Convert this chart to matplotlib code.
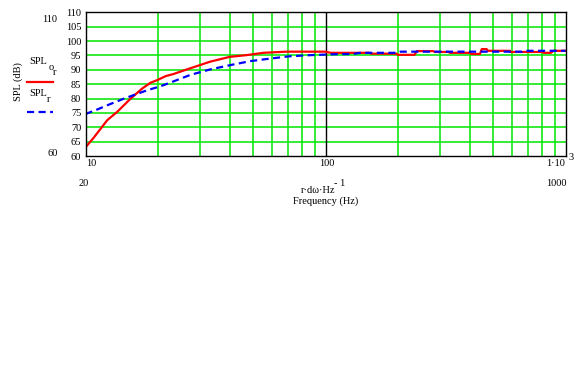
import matplotlib
matplotlib.use("Agg")
import matplotlib.pyplot as plt
from matplotlib.ticker import FixedLocator, NullFormatter

# ---- data ----
freq_or = [10, 10.85, 12.33, 13.57, 15.43, 17.24, 18.67, 19.9, 21.6, 23.2, 27.3, 33.0,
           39.9, 46.9, 55.1, 68.8, 100, 105, 152, 155, 198, 200, 235, 240, 281, 285,
           325, 330, 400, 405, 440, 448, 469, 475, 587, 590, 805, 810, 870, 890, 1000]
spl_or = [63.0, 66.5, 72.5, 75.4, 80.0, 83.5, 85.5, 86.4, 87.8, 88.5, 90.5, 92.8,
          94.5, 95.1, 95.9, 96.3, 96.3, 95.9, 95.9, 95.6, 95.6, 95.2, 95.2, 96.5, 96.5, 96.2,
          96.2, 95.9, 95.9, 95.5, 95.5, 97.2, 97.2, 96.6, 96.6, 96.2, 96.2, 95.9, 95.9, 96.6, 96.6]

freq_r = [10, 11.2, 12.7, 14.5, 15.9, 18.1, 20.6, 22.5, 27.3, 33.0, 40.0, 48.5,
          58.8, 71, 87, 108, 130, 140, 200, 205, 660, 667, 1000]
spl_r = [74.6, 76.2, 78.1, 80.0, 81.2, 82.9, 84.3, 85.5, 88.2, 90.1, 91.6, 93.0,
         93.9, 94.7, 95.1, 95.4, 95.5, 95.9, 95.9, 96.3, 96.3, 96.6, 96.6]

y_ticks = [60, 65, 70, 75, 80, 85, 90, 95, 100, 105, 110]
x_minor = [20, 30, 40, 50, 60, 70, 80, 90, 200, 300, 400, 500, 600, 700, 800, 900]

W, H = 582, 384
FONT = "Liberation Serif"
FS = 7.5
fig = plt.figure(figsize=(W / 100, H / 100), dpi=100)

def fx(x):
    return x / W

def fy(y):
    return 1 - y / H

left, right, top, bottom = 85.5, 565.5, 12.3, 156.0
ax = fig.add_axes([fx(left), fy(bottom), (right - left) / W, (bottom - top) / H])
ax.set_xscale("log")
ax.set_xlim(10, 1000)
ax.set_ylim(60, 110)

green = "#00e600"
for v in y_ticks[1:-1]:
    ax.axhline(v, color=green, lw=1.1, zorder=1)
for v in x_minor:
    ax.axvline(v, color=green, lw=1.1, zorder=1)
ax.axvline(100, color="black", lw=1.0, zorder=1)

ax.plot(freq_or, spl_or, color="#ff0000", lw=1.6, zorder=3)
ax.plot(freq_r, spl_r, color="#0000ff", lw=1.6, linestyle=(0, (3.2, 2.0)), zorder=4)

for s in ax.spines.values():
    s.set_color("black")
    s.set_linewidth(1.0)
    s.set_zorder(5)

ax.set_yticks(y_ticks)
ax.set_yticklabels([str(v) for v in y_ticks], fontfamily=FONT, fontsize=FS)
ax.tick_params(axis="y", length=0, pad=3)
ax.xaxis.set_major_locator(FixedLocator([]))
ax.xaxis.set_minor_locator(FixedLocator([]))
ax.xaxis.set_major_formatter(NullFormatter())
ax.xaxis.set_minor_formatter(NullFormatter())
ax.tick_params(axis="x", length=0, which="both")

def t(x, y, s, ha="center", rot=0):
    fig.text(fx(x), fy(y), s, ha=ha, va="center", fontfamily=FONT, fontsize=FS, rotation=rot)

# x tick labels
t(86.5, 163, "10", ha="left")
t(326.5, 163, "100")
t(556, 163, "1·10")
t(571, 158, "3")

# extra axis limit labels
t(50, 19, "110")
t(52.5, 153.5, "60")
t(83.5, 183.5, "20")
t(556, 183.5, "1000")

# x axis title
t(318, 190, "r·dω·Hz")
t(340, 183.5, "- 1")
t(326, 201.5, "Frequency (Hz)")

# y axis title
t(18, 82, "SPL (dB)", rot=90)

# legend
t(38, 61.5, "SPL")
t(51.5, 68, "o")
t(55, 72.5, "r")
fig.add_artist(plt.Line2D([fx(27), fx(53)], [fy(81.7), fy(81.7)], color="#ff0000", lw=1.6))
t(38, 93.5, "SPL")
t(48.5, 100, "r")
fig.add_artist(plt.Line2D([fx(27), fx(53)], [fy(111.7), fy(111.7)], color="#0000ff", lw=1.6,
                          linestyle=(0, (3.2, 2.0))))

fig.savefig("out.png", dpi=100)
